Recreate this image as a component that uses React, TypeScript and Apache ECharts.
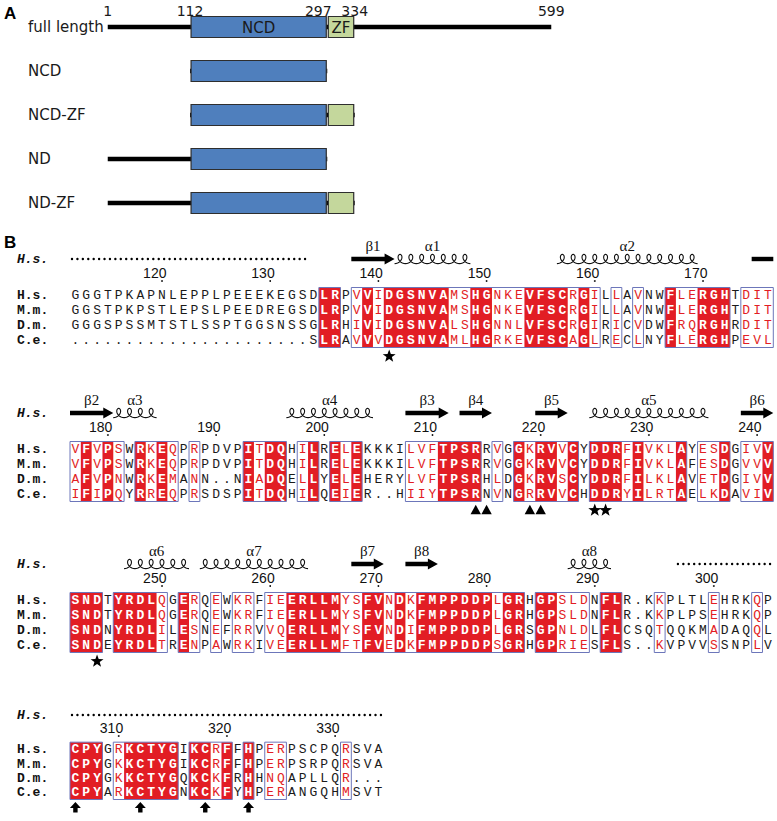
import React, { useEffect, useRef } from "react";
import * as echarts from "echarts";

// ================= Panel A data =================
const constructNames = ["full length", "NCD", "NCD-ZF", "ND", "ND-ZF"];
const constructStart = [1, 112, 112, 1, 1];
const constructEnd = [599, 297, 334, 297, 334];
const domainNames = ["NCD", "ZF"];
const domainStart = [112, 297];
const domainEnd = [297, 334];
const boundaryLabels = [1, 112, 297, 334, 599];

// ================= Panel B data =================
const speciesNames = ["H.s.", "M.m.", "D.m.", "C.e."];
const firstResidue = 112;

const block1Seqs = [
  "GGGTPKAPNLEPPLPEEEKEGSDLRPVVIDGSNVAMSHGNKEVFSCRGILLAVNWFLERGHTDIT",
  "GGSTPKPSTLEPSLPEEDREGSDLRPVVIDGSNVAMSHGNKEVFSCRGILLAVNWFLERGHTDIT",
  "GGGSPSSMTSTLSSPTGGSNSSGLRHIVIDGSNVALSHGNNLVFSCRGIRICVDWFRQRGHRDIT",
  "......................SLRAVVVDGSNVAMLHGRKEVFSCAGLRECLNYFLERGHPEVL",
];
const block2Seqs = [
  "VFVPSWRKEQPRPDVPITDQHILRELEKKKILVFTPSRRVGGKRVVCYDDRFIVKLAYESDGIVV",
  "VFVPSWRKEQPRPDVPITDQHILRELEKKKILVFTPSRRVGGKRVVCYDDRFIVKLAFESDGVVV",
  "AFVPNWRKEMANN..NIADQELLYELEHERYLVFTPSRHLDGKRVSCYDDRFILKLAVETDGIVV",
  "IFIPQYRREQPRSDSPITDQHILQEIER..HIIYTPSRNVNGRRVVCHDDRYILRTAELKDAVIV",
];
const block3Seqs = [
  "SNDTYRDLQGERQEWKRFIEERLLMYSFVNDKFMPPDDPLGRHGPSLDNFLR.KKPLTLEHRKQP",
  "SNDTYRDLQGERQEWKRFIEERLLMYSFVNDKFMPPDDPLGRHGPSLDNFLR.KKPLPSEHRKQP",
  "SNDNYRDLILESNEFRRVVQERLLMYSFVNDIFMPPDDPLGRSGPNLDLFLCSQTQQKMADAQQL",
  "SNDEYRDLTRENPAWRKIVEERLLMFTFVEDKFMPPDDPSGRHGPRIESFLS..KVPVVSSNPLV",
];
const block4Seqs = [
  "CPYGRKCTYGIKCRFFHPERPSCPQRSVA",
  "CPYGKKCTYGIKCRFFHPERPSRPQRSVA",
  "CPYGKKCTYGQKCKFRHHNQAPLLQR...",
  "CPYARKCTYGNKCKFYHPERANGQHMSVT",
];

// column class: I = strictly identical (red box), s = similar (red letters, framed), . = none
const block1Cons =
  "......................." + "II." + "sIsIIIIIIssIIsssIIIIsIs" + ".s.s..IssIII.sss";
const block2Cons =
  "sIsIs.IsIs" + ".s....IsII" + ".sI.IsI..." + ".sssIIII.s" + ".IsIIsI.II" + "IsIsssI.ss" + "I.ssI";
const block3Cons =
  "III.IIIIs." + "Is.s.ss.ss" + "IIIIIssIIs" + "IsIIIIIIIs" + "II.IIsss.I" + "I...s....s" + "...s.";
const block4Cons = "III.sIIIII" + ".IIsI.I.ss" + ".....s...";

// secondary structure of H.s. (column ranges, inclusive)
const block1SS = [
  { type: "coil", from: 0, to: 21, label: "" },
  { type: "strand", from: 26, to: 29, label: "β1" },
  { type: "helix", from: 30, to: 36, label: "α1" },
  { type: "helix", from: 45, to: 57, label: "α2" },
  { type: "bar", from: 63, to: 64, label: "" },
];
const block2SS = [
  { type: "strand", from: 0, to: 3, label: "β2" },
  { type: "helix", from: 4, to: 7, label: "α3" },
  { type: "helix", from: 20, to: 27, label: "α4" },
  { type: "strand", from: 31, to: 34, label: "β3" },
  { type: "strand", from: 36, to: 38, label: "β4" },
  { type: "strand", from: 43, to: 45, label: "β5" },
  { type: "helix", from: 48, to: 58, label: "α5" },
  { type: "strand", from: 62, to: 64, label: "β6" },
];
const block3SS = [
  { type: "helix", from: 5, to: 10, label: "α6" },
  { type: "helix", from: 12, to: 21, label: "α7" },
  { type: "strand", from: 26, to: 28, label: "β7" },
  { type: "strand", from: 31, to: 33, label: "β8" },
  { type: "helix", from: 46, to: 49, label: "α8" },
  { type: "coil", from: 56, to: 64, label: "" },
];
const block4SS = [{ type: "coil", from: 0, to: 28, label: "" }];

// markers below the alignment: [column, symbol]
const block1Marks: [number, string][] = [[29, "star"]];
const block2Marks: [number, string][] = [
  [37, "tri"], [38, "tri"], [42, "tri"], [43, "tri"], [48, "star"], [49, "star"],
];
const block3Marks: [number, string][] = [[2, "star"]];
const block4Marks: [number, string][] = [[0, "arrow"], [6, "arrow"], [12, "arrow"], [16, "arrow"]];

const blockSeqs = [block1Seqs, block2Seqs, block3Seqs, block4Seqs];
const blockCons = [block1Cons, block2Cons, block3Cons, block4Cons];
const blockSS = [block1SS, block2SS, block3SS, block4SS];
const blockMarks = [block1Marks, block2Marks, block3Marks, block4Marks];

// ================= layout / style =================
const CW = 10.82;
const SEQ_LEFT = 70;
const ROW_H = 15;
const blockRowY = [295, 449, 600, 752];
const RED = "#e21d24";
const BLUE = "#6c76ba";
const MONO = '"Liberation Mono", "DejaVu Sans Mono", monospace';
const SANS = '"Liberation Sans", Arial, sans-serif';
const SERIF = '"Liberation Serif", "Times New Roman", serif';
const VERD = '"DejaVu Sans", Verdana, sans-serif';

type Item = { kind: string; v: number[]; text?: string; cls?: string; n?: number };

function buildBlockItems(): Item[][] {
  const all: Item[][] = [];
  let residue = firstResidue - 1;
  for (let b = 0; b < blockSeqs.length; b++) {
    const seqs = blockSeqs[b];
    const cons = blockCons[b];
    const n = seqs[0].length;
    const items: Item[] = [];
    const cls = (c: number) => cons[c] || ".";
    // identical runs -> red fill
    let c = 0;
    while (c < n) {
      if (cls(c) === "I") {
        let e = c;
        while (e + 1 < n && cls(e + 1) === "I") e++;
        items.push({ kind: "fill", v: [c, -0.5, e + 1, 3.5] });
        c = e + 1;
      } else c++;
    }
    // conserved runs -> blue frame
    c = 0;
    while (c < n) {
      if (cls(c) !== ".") {
        let e = c;
        while (e + 1 < n && cls(e + 1) !== ".") e++;
        items.push({ kind: "frame", v: [c, -0.5, e + 1, 3.5] });
        c = e + 1;
      } else c++;
    }
    // residues
    for (let r = 0; r < seqs.length; r++) {
      for (let k = 0; k < n; k++) {
        items.push({ kind: "char", v: [k + 0.5, r, k + 0.5, r], text: seqs[r][k], cls: cls(k) });
      }
      items.push({ kind: "name", v: [-4.9, r, -4.9, r], text: speciesNames[r] });
    }
    items.push({ kind: "hname", v: [-4.9, -2.4, -4.9, -2.4], text: speciesNames[0] });
    // numbering (H.s.)
    for (let k = 0; k < n; k++) {
      if (seqs[0][k] !== ".") {
        residue++;
        if (residue % 10 === 0) {
          items.push({ kind: "num", v: [k + 0.5, -1.47, k + 0.5, -0.93], text: String(residue) });
        }
      }
    }
    // secondary structure
    for (const s of blockSS[b]) {
      items.push({ kind: s.type, v: [s.from, -2.4, s.to + 1, -2.4], n: s.to - s.from + 1 });
      if (s.label) {
        const mid = (s.from + s.to + 1) / 2;
        items.push({ kind: "sslabel", v: [mid, -3.25, mid, -3.25], text: s.label });
      }
    }
    // markers
    for (const [col, sym] of blockMarks[b]) {
      items.push({ kind: "mark", v: [col + 0.5, 4.05, col + 0.5, 4.05], text: sym });
    }
    all.push(items);
  }
  return all;
}

function helixPoints(x0: number, x1: number, y: number, n: number) {
  const r = (x1 - x0) / n / (2 * Math.PI);
  const dx = 4.3;
  const dy = 4.6;
  const pts: number[][] = [];
  const steps = n * 24;
  for (let i = 0; i <= steps; i++) {
    const t = Math.PI + (2 * Math.PI * n * i) / steps;
    pts.push([x0 + r * (t - Math.PI) - dx * Math.sin(t), y - dy * Math.cos(t)]);
  }
  return pts;
}

function markShape(sym: string, cx: number, cy: number) {
  if (sym === "star") {
    const pts: number[][] = [];
    for (let i = 0; i < 10; i++) {
      const ang = -Math.PI / 2 + (i * Math.PI) / 5;
      const rad = i % 2 === 0 ? 6.8 : 2.8;
      pts.push([cx + rad * Math.cos(ang), cy + 0.5 + rad * Math.sin(ang)]);
    }
    return { type: "polygon", shape: { points: pts }, style: { fill: "#000" } };
  }
  if (sym === "tri") {
    return {
      type: "polygon",
      shape: { points: [[cx, cy - 5], [cx - 5.2, cy + 4.5], [cx + 5.2, cy + 4.5]] },
      style: { fill: "#000" },
    };
  }
  return {
    type: "polygon",
    shape: {
      points: [
        [cx, cy - 5.5], [cx + 5.5, cy + 0.5], [cx + 2.2, cy + 0.5], [cx + 2.2, cy + 5],
        [cx - 2.2, cy + 5], [cx - 2.2, cy + 0.5], [cx - 5.5, cy + 0.5],
      ],
    },
    style: { fill: "#000" },
  };
}

function blockRenderer(items: Item[]) {
  return (params: any, api: any) => {
    const it = items[params.dataIndex];
    const a = api.coord([api.value(0), api.value(1)]);
    const b = api.coord([api.value(2), api.value(3)]);
    switch (it.kind) {
      case "fill":
        return {
          type: "rect",
          z2: 1,
          shape: { x: a[0], y: a[1], width: b[0] - a[0], height: b[1] - a[1] },
          style: { fill: RED },
        };
      case "frame":
        return {
          type: "rect",
          z2: 3,
          shape: { x: a[0], y: a[1], width: b[0] - a[0], height: b[1] - a[1] },
          style: { fill: "none", stroke: BLUE, lineWidth: 1 },
        };
      case "char": {
        const c = it.cls;
        return {
          type: "text",
          z2: 4,
          x: a[0],
          y: a[1] + 0.5,
          style: {
            text: it.text,
            fontFamily: MONO,
            fontSize: 13,
            fontWeight: c === "I" ? "bold" : "normal",
            fill: c === "I" ? "#ffffff" : c === "s" ? RED : "#1a1a1a",
            align: "center",
            verticalAlign: "middle",
          },
        };
      }
      case "name":
      case "hname":
        return {
          type: "text",
          z2: 4,
          x: a[0],
          y: a[1] + 0.5,
          style: {
            text: it.text,
            fontFamily: MONO,
            fontSize: 13,
            fontWeight: "bold",
            fontStyle: it.kind === "hname" ? "italic" : "normal",
            fill: "#111",
            align: "left",
            verticalAlign: "middle",
          },
        };
      case "num":
        return {
          type: "group",
          children: [
            {
              type: "text",
              x: a[0] + 4.5,
              y: a[1],
              style: {
                text: it.text,
                fontFamily: SANS,
                fontSize: 14,
                fill: "#111",
                align: "right",
                verticalAlign: "middle",
              },
            },
            { type: "circle", shape: { cx: a[0], cy: b[1], r: 0.9 }, style: { fill: "#111" } },
          ],
        };
      case "sslabel":
        return {
          type: "text",
          x: a[0],
          y: a[1],
          style: {
            text: it.text,
            fontFamily: SERIF,
            fontSize: 15,
            fill: "#111",
            align: "center",
            verticalAlign: "middle",
          },
        };
      case "coil":
        return {
          type: "line",
          shape: { x1: a[0] + 2, y1: a[1], x2: b[0] - 2, y2: b[1] },
          style: { stroke: "#000", lineWidth: 2.4, lineDash: [0.01, CW / 2], lineCap: "round" },
        };
      case "bar":
        return {
          type: "rect",
          shape: { x: a[0], y: a[1] - 2.2, width: b[0] - a[0], height: 4.4 },
          style: { fill: "#000" },
        };
      case "strand": {
        const x0 = a[0];
        const x1 = b[0];
        const y = a[1];
        const h = x1 - 10;
        return {
          type: "polygon",
          shape: {
            points: [
              [x0, y - 2.2], [h, y - 2.2], [h, y - 5.6], [x1, y], [h, y + 5.6], [h, y + 2.2], [x0, y + 2.2],
            ],
          },
          style: { fill: "#000" },
        };
      }
      case "helix":
        return {
          type: "polyline",
          shape: { points: helixPoints(a[0], b[0], a[1], it.n || 1) },
          style: { stroke: "#111", fill: "none", lineWidth: 1.1 },
        };
      case "mark":
        return markShape(it.text || "star", a[0], a[1]);
    }
    return null;
  };
}

function buildPanelAItems(): Item[] {
  const items: Item[] = [];
  for (let i = 0; i < constructNames.length; i++) {
    items.push({ kind: "line", v: [constructStart[i], i, constructEnd[i], i] });
    for (let d = 0; d < domainNames.length; d++) {
      if (domainStart[d] >= constructStart[i] && domainEnd[d] <= constructEnd[i]) {
        items.push({ kind: "domain", v: [domainStart[d], i, domainEnd[d], i], n: d });
        if (i === 0) {
          const mid = (domainStart[d] + domainEnd[d]) / 2;
          items.push({ kind: "dlabel", v: [mid, i, mid, i], text: domainNames[d] });
        }
      }
    }
  }
  for (let k = 0; k < boundaryLabels.length; k++) {
    const bnd = boundaryLabels[k];
    const next = boundaryLabels[k + 1];
    // crowded label (next boundary is close): nudge it left so the two stay apart
    const crowded = next !== undefined && next - bnd < 60 ? 1 : 0;
    items.push({ kind: "blabel", v: [bnd, 0, bnd, 0], text: String(bnd), n: crowded });
  }
  return items;
}

const DOMAIN_FILL = ["#4f7fbd", "#c4d79c"];

function panelARenderer(items: Item[]) {
  return (params: any, api: any) => {
    const it = items[params.dataIndex];
    const a = api.coord([api.value(0), api.value(1)]);
    const b = api.coord([api.value(2), api.value(3)]);
    switch (it.kind) {
      case "line":
        return {
          type: "rect",
          z2: 1,
          shape: { x: a[0], y: a[1] - 2.3, width: b[0] - a[0], height: 4.6 },
          style: { fill: "#000" },
        };
      case "domain":
        return {
          type: "rect",
          z2: 2,
          shape: { x: a[0] + 1, y: a[1] - 10.5, width: b[0] - a[0] - 2, height: 21 },
          style: { fill: DOMAIN_FILL[it.n || 0], stroke: "#2e2e2e", lineWidth: 1.2 },
        };
      case "dlabel":
        return {
          type: "text",
          z2: 3,
          x: a[0],
          y: a[1] + 1,
          style: {
            text: it.text,
            fontFamily: VERD,
            fontSize: 15,
            fill: "#1a1a1a",
            align: "center",
            verticalAlign: "middle",
          },
        };
      case "blabel":
        return {
          type: "text",
          z2: 3,
          x: a[0] - (it.n ? 9 : 0),
          y: a[1] - 16,
          style: {
            text: it.text,
            fontFamily: VERD,
            fontSize: 14,
            fill: "#1a1a1a",
            align: "center",
            verticalAlign: "middle",
          },
        };
    }
    return null;
  };
}

function buildOption() {
  const blockItems = buildBlockItems();
  const aItems = buildPanelAItems();

  const grids: any[] = [{ left: 107, width: 445, top: 5, height: 220 }];
  const xAxes: any[] = [{ gridIndex: 0, type: "value", min: 0, max: 600, show: false }];
  const yAxes: any[] = [
    {
      gridIndex: 0,
      type: "category",
      data: constructNames,
      inverse: true,
      axisLine: { show: false },
      axisTick: { show: false },
      splitLine: { show: false },
      axisLabel: {
        align: "left",
        margin: 79,
        fontFamily: VERD,
        fontSize: 15,
        color: "#1a1a1a",
      },
    },
  ];
  const series: any[] = [
    {
      type: "custom",
      xAxisIndex: 0,
      yAxisIndex: 0,
      silent: true,
      clip: false,
      renderItem: panelARenderer(aItems),
      data: aItems.map((it) => it.v),
      encode: { x: 0, y: 1 },
    },
  ];

  for (let b = 0; b < blockItems.length; b++) {
    const gi = b + 1;
    grids.push({
      left: SEQ_LEFT - 6 * CW,
      width: 71 * CW,
      top: blockRowY[b] - 4 * ROW_H,
      height: 9 * ROW_H,
    });
    xAxes.push({ gridIndex: gi, type: "value", min: -6, max: 65, show: false });
    yAxes.push({ gridIndex: gi, type: "value", min: -4, max: 5, inverse: true, show: false });
    series.push({
      type: "custom",
      xAxisIndex: gi,
      yAxisIndex: gi,
      silent: true,
      clip: false,
      renderItem: blockRenderer(blockItems[b]),
      data: blockItems[b].map((it) => it.v),
      encode: { x: 0, y: 1 },
    });
  }

  return {
    animation: false,
    backgroundColor: "#ffffff",
    grid: grids,
    xAxis: xAxes,
    yAxis: yAxes,
    series,
    graphic: [
      {
        type: "text",
        left: 4,
        top: 5,
        style: { text: "A", fontFamily: SANS, fontWeight: "bold", fontSize: 17, fill: "#000" },
      },
      {
        type: "text",
        left: 4,
        top: 234,
        style: { text: "B", fontFamily: SANS, fontWeight: "bold", fontSize: 17, fill: "#000" },
      },
    ],
  };
}

export default function App() {
  const ref = useRef<HTMLDivElement>(null);
  useEffect(() => {
    if (!ref.current) return;
    const chart = echarts.init(ref.current, null, { renderer: "svg" });
    chart.setOption(buildOption() as any);
    return () => chart.dispose();
  }, []);
  return (
    <div
      ref={ref}
      style={{ position: "absolute", left: 0, top: 0, width: 777, height: 821, background: "#fff" }}
    />
  );
}
